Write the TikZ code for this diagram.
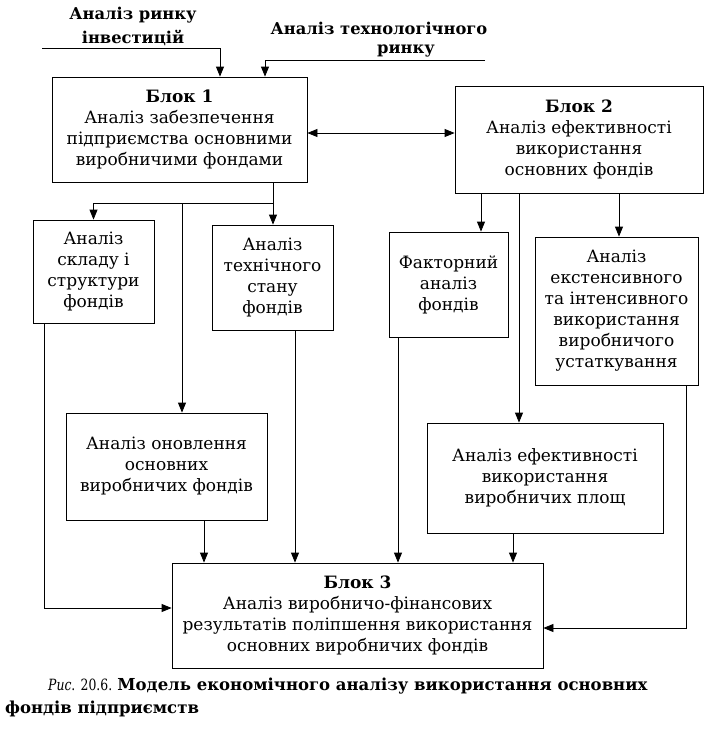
\documentclass[tikz,border=0pt]{standalone}
\usepackage{fontspec}
\setmainfont{DejaVu Serif}
\newfontfamily\capfont[FakeStretch=0.8]{DejaVu Serif}
\usetikzlibrary{arrows.meta}
\begin{document}
\begin{tikzpicture}[x=1pt,y=-1pt,
  box/.style={draw,line width=0.8pt,align=center,inner sep=2pt,font=\fontsize{17}{21}\selectfont},
  arr/.style={line width=0.8pt,-{Triangle[length=10pt,width=8pt]}},
  arrb/.style={line width=0.8pt,{Triangle[length=10pt,width=8pt]}-{Triangle[length=10pt,width=8pt]}},
  ln/.style={line width=0.8pt},
  lbl/.style={font=\bfseries\fontsize{16.3}{20}\selectfont,inner sep=0pt}
]
\useasboundingbox (0,0) rectangle (715,734);
% boxes
\node[box,minimum width=255,minimum height=105] (B1) at (179.5,129.5) {\textbf{Блок 1}\\Аналіз забезпечення\\підприємства основними\\виробничими фондами};
\node[box,minimum width=248,minimum height=107] (B2) at (579,139.5) {\textbf{Блок 2}\\Аналіз ефективності\\використання\\основних фондів};
\node[box,minimum width=121,minimum height=103] (S) at (93.5,271.5) {Аналіз\\складу і\\структури\\фондів};
\node[box,minimum width=121,minimum height=105] (T) at (272.5,277.5) {Аналіз\\технічного\\стану\\фондів};
\node[box,minimum width=119,minimum height=105] (F) at (448.5,284.5) {Факторний\\аналіз\\фондів};
\node[box,minimum width=163,minimum height=148] (E) at (616.5,311) {Аналіз\\екстенсивного\\та інтенсивного\\використання\\виробничого\\устаткування};
\node[box,minimum width=201,minimum height=107] (O) at (166.5,466.5) {Аналіз оновлення\\основних\\виробничих фондів};
\node[box,minimum width=236,minimum height=110] (P) at (545,478) {Аналіз ефективності\\використання\\виробничих площ};
\node[box,minimum width=371,minimum height=105] (B3) at (357.5,615.5) {\textbf{Блок 3}\\Аналіз виробничо-фінансових\\результатів поліпшення використання\\основних виробничих фондів};
% input labels
\node[lbl] (l1a) at (133,15) {Аналіз ринку};
\node[lbl] (l1b) at (133,38) {інвестицій};
\node[lbl] (l2a) at (379,28) {Аналіз технологічного};
\node[lbl] (l2b) at (406,51) {ринку};
% input arrows
\coordinate (i1s) at (42,48);
\coordinate (i1) at (220,48);
\coordinate (i2s) at (485,60);
\coordinate (i2) at (265,60);
\draw[arr] (i1s) -- (i1) -- (B1.north -| i1);
\draw[arr] (i2s) -- (i2) -- (B1.north -| i2);
% B1 <-> B2
\coordinate (h) at (0,133);
\draw[arrb] (B1.east |- h) -- (B2.west |- h);
% B1 down
\coordinate (j1) at (273,203);
\coordinate (j2) at (182,203);
\draw[arr] (B1.south -| j1) -- (T.north -| j1);
\draw[arr] (j1) -| (S.north);
\draw[arr] (j2) -- (O.north -| j2);
% B2 down
\coordinate (k1) at (481,0);
\coordinate (k2) at (519,0);
\coordinate (k3) at (619,0);
\draw[arr] (B2.south -| k1) -- (F.north -| k1);
\draw[arr] (B2.south -| k2) -- (P.north -| k2);
\draw[arr] (B2.south -| k3) -- (E.north -| k3);
% into B3
\coordinate (m1) at (44,608);
\coordinate (m2) at (686,628);
\coordinate (n1) at (204,0);
\coordinate (n2) at (295,0);
\coordinate (n3) at (398,0);
\coordinate (n4) at (513,0);
\draw[arr] (S.south -| m1) -- (m1) -- (B3.west |- m1);
\draw[arr] (E.south -| m2) -- (m2) -- (B3.east |- m2);
\draw[arr] (O.south -| n1) -- (B3.north -| n1);
\draw[arr] (T.south -| n2) -- (B3.north -| n2);
\draw[arr] (F.south -| n3) -- (B3.north -| n3);
\draw[arr] (P.south -| n4) -- (B3.north -| n4);
% caption
\node[anchor=base west,inner sep=0pt,font=\fontsize{16.5}{20}\selectfont] (c1) at (48,690) {{\capfont\fontsize{15.5}{20}\selectfont\textit{Рис}. 20.6. }\textbf{Модель економічного аналізу використання основних}};
\node[anchor=base west,inner sep=0pt,font=\fontsize{16.5}{20}\selectfont] (c2) at (5,713) {\textbf{фондів підприємств}};
\end{tikzpicture}
\end{document}
